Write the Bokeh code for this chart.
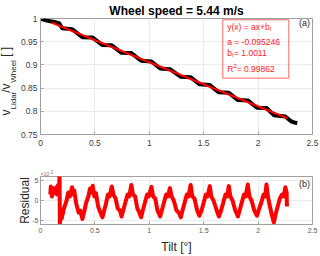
import math
from bokeh.plotting import figure
from bokeh.layouts import column
from bokeh.models import Range1d, FixedTicker, Label, BoxAnnotation, GlobalInlineStyleSheet, Title
from bokeh.embed import file_html
from bokeh.resources import INLINE

# ---------------- data ----------------
title_text = "Wheel speed = 5.44 m/s"

meas_tilt = [0.00, 0.02, 0.05, 0.09, 0.12, 0.17, 0.20, 0.29, 0.385, 0.48, 0.57, 0.655,
             0.745, 0.835, 0.925, 1.02, 1.10, 1.19, 1.29, 1.379, 1.46, 1.556, 1.64,
             1.731, 1.815, 1.905, 1.99, 2.077, 2.145, 2.25, 2.30, 2.33, 2.36]
meas_ratio = [1.000, 0.998, 0.996, 0.994, 0.993, 0.990, 0.979, 0.977, 0.9595, 0.9589,
              0.9428, 0.9422, 0.9261, 0.9254, 0.9090, 0.9073, 0.8923, 0.8908, 0.8742,
              0.8736, 0.8585, 0.8565, 0.8409, 0.8398, 0.8242, 0.8235, 0.8076, 0.8071,
              0.7917, 0.7890, 0.7790, 0.7760, 0.7750]

fit_tilt = [0.10, 2.27]
fit_ratio = [0.9916, 0.7849]

res_tilt = [0.090, 0.095, 0.105, 0.115, 0.125, 0.140, 0.150, 0.160, 0.170, 0.175, 0.178,
            0.185, 0.195, 0.215, 0.240, 0.255, 0.270, 0.290, 0.300, 0.310, 0.330, 0.350,
            0.365, 0.385, 0.400, 0.420, 0.440, 0.455, 0.465, 0.480, 0.495, 0.510, 0.530,
            0.550, 0.570, 0.585, 0.600, 0.620, 0.635, 0.655, 0.670, 0.690, 0.710, 0.730,
            0.745, 0.760, 0.780, 0.800, 0.815, 0.835, 0.850, 0.870, 0.890, 0.905, 0.925,
            0.940, 0.960, 0.980, 0.995, 1.020, 1.035, 1.055, 1.075, 1.100, 1.115, 1.135,
            1.155, 1.170, 1.190, 1.205, 1.225, 1.250, 1.270, 1.290, 1.305, 1.325, 1.345,
            1.360, 1.380, 1.395, 1.415, 1.440, 1.460, 1.480, 1.500, 1.520, 1.535, 1.556,
            1.570, 1.590, 1.620, 1.640, 1.660, 1.680, 1.700, 1.715, 1.731, 1.745, 1.765,
            1.790, 1.815, 1.830, 1.850, 1.870, 1.885, 1.905, 1.920, 1.940, 1.965, 1.990,
            2.010, 2.030, 2.050, 2.065, 2.077, 2.090, 2.105, 2.125, 2.145, 2.160, 2.180,
            2.200, 2.220, 2.235, 2.250, 2.262, 2.265]
res_val = [1.5, 3.5, 1.0, 3.0, 1.8, 3.2, 1.5, 3.8, 2.5, 6.3, -6.0,
           -3.0, -4.5, -2.0, 0.0, 2.0, 1.0, 3.3, 1.5, 2.5, -1.0, -3.0,
           -2.5, -4.6, -3.0, -0.5, 1.0, 3.0, 2.0, 3.7, 1.0, 1.8, -1.5,
           -3.0, -4.2, -2.5, -1.0, 1.5, 1.0, 3.5, 1.5, 0.5, -2.0, -2.5,
           -4.0, -2.5, -0.5, 1.5, 1.0, 3.9, 1.5, 1.0, -2.0, -2.8, -4.2,
           -2.5, -0.5, 1.5, 1.0, 3.4, 1.0, 0.5, -2.5, -4.0, -2.5, -0.5,
           1.5, 1.0, 3.1, 1.0, 0.0, -2.5, -3.0, -4.2, -2.5, -0.5, 1.5,
           1.0, 3.9, 1.0, 0.5, -2.5, -3.8, -2.5, -0.5, 1.5, 1.0, 3.6,
           1.0, 0.0, -2.5, -4.0, -2.5, -0.5, 1.5, 1.0, 3.6, 1.0, 0.0,
           -2.5, -4.0, -2.5, -0.5, 1.5, 1.0, 4.0, 1.0, 0.0, -2.5, -3.8,
           -2.0, -0.5, 1.5, 1.0, 4.0, 1.0, -1.0, -3.5, -5.5, -3.5, -1.5,
           0.5, 1.5, 1.0, 3.3, 2.0, -1.5]  # in units of 1e-3

x_ticks = [0, 0.5, 1, 1.5, 2, 2.5]
x_tick_labels = ["0", "0.5", "1", "1.5", "2", "2.5"]
y_ticks = [0.75, 0.8, 0.85, 0.9, 0.95, 1.0]
y_tick_labels = ["0.75", "0.8", "0.85", "0.9", "0.95", "1"]
res_ticks = [-5, 0, 5]
res_tick_labels = ["-5", "0", "5"]

fit_lines = ["y(x) = ax+b", "a = -0.095246", "b", "R"]

FONT = "Liberation Sans"
AXIS_COL = "#a0a0a0"
GRID_COL = "#ebebeb"
TXT = "#262626"
NB = "\u00a0"

# ---------------- top figure ----------------
p1 = figure(width=320, height=160, x_range=Range1d(0, 2.5), y_range=Range1d(0.75, 1.0),
            output_backend="svg", toolbar_location=None,
            min_border_left=40, min_border_right=8, min_border_top=16, min_border_bottom=26)

def tx(sx):
    return (sx - 40) * 2.5 / 272.0

def ty(sy):
    return 0.75 + (134 - sy) * 0.25 / 118.0

p1.line(meas_tilt, meas_ratio, color="black", line_width=4, line_join="round")
p1.line(fit_tilt, fit_ratio, color="red", line_width=2.2)

def style(p, xticks, xlabels, yticks, ylabels, fs, lab_col, xs, ys):
    p.outline_line_color = AXIS_COL
    p.outline_line_alpha = 1.0
    p.background_fill_color = "white"
    p.border_fill_color = "white"
    p.xaxis.ticker = FixedTicker(ticks=xticks)
    p.yaxis.ticker = FixedTicker(ticks=yticks)
    p.xaxis.major_label_overrides = dict(zip(xticks, xlabels))
    p.yaxis.major_label_overrides = dict(zip(yticks, ylabels))
    for ax in (p.xaxis[0], p.yaxis[0]):
        ax.axis_line_color = AXIS_COL
        ax.major_tick_line_color = AXIS_COL
        ax.major_tick_in = 3
        ax.major_tick_out = 0
        ax.minor_tick_line_color = None
        ax.major_label_text_font = FONT
        ax.major_label_text_font_size = fs
        ax.major_label_text_color = lab_col
    p.xaxis.major_label_standoff = xs
    p.yaxis.major_label_standoff = ys
    p.xgrid.grid_line_color = GRID_COL
    p.ygrid.grid_line_color = GRID_COL
    p.xgrid.ticker = FixedTicker(ticks=xticks)
    p.ygrid.ticker = FixedTicker(ticks=yticks)

style(p1, x_ticks, x_tick_labels, y_ticks, y_tick_labels, "8.5px", "#404040", 5, 3)

def lab(p, x, y, text, size, color="black", align="left", baseline="middle"):
    # x, y: canvas pixel coordinates within the figure
    p.add_layout(Label(x=x, y=y, x_units="canvas", y_units="canvas", text=text,
                       text_font=FONT, text_font_size=size,
                       text_color=color, text_align=align, text_baseline=baseline))

def side_title(p, place, text, size, align="center", offset=0, standoff=0, style_="normal", color=TXT):
    t = Title(text=text, align=align, offset=offset, standoff=standoff,
              text_font=FONT, text_font_size=size, text_font_style=style_, text_color=color)
    p.add_layout(t, place)
    return t

# title (above panel)
p1.title.text = title_text
p1.title.align = "center"
p1.title.text_font = FONT
p1.title.text_font_size = "12px"
p1.title.text_font_style = "bold"
p1.title.text_color = "black"
p1.title.standoff = 2

# y-axis label with subscripts: subscript strip next to axis, main strip outside
side_title(p1, "left", "Lidar" + NB * 4 + "Wheel", "8px", "left", offset=25, standoff=0)
side_title(p1, "left", "v" + NB * 5 + "/v" + NB * 7 + NB + "[" + NB + "]", "12px", "left",
           offset=19, standoff=-12)

# fit annotation box
p1.add_layout(BoxAnnotation(left=tx(222.3), right=tx(288.3), top=ty(17.3), bottom=ty(76.7),
                            fill_alpha=0.0, line_color="red", line_alpha=0.6, line_width=1))
RED = "#ff2020"
lab(p1, 226.7, 26.7, fit_lines[0], "8.5px", RED)
lab(p1, 269.4, 28.8, "l", "6px", RED)
lab(p1, 226.7, 41.7, fit_lines[1], "8.5px", RED)
lab(p1, 226.7, 52.7, fit_lines[2], "8.5px", RED)
lab(p1, 231.6, 54.8, "l", "6px", RED)
lab(p1, 233.5, 52.7, " = 1.0011", "8.5px", RED)
lab(p1, 226.7, 68.3, fit_lines[3], "8.5px", RED)
lab(p1, 232.9, 65.5, "2", "6px", RED)
lab(p1, 236.2, 68.3, " = 0.99862", "8.5px", RED)

lab(p1, 309.5, 22.7, "(a)", "9px", TXT, "right")

# ---------------- bottom figure ----------------
OFF = 160  # bottom figure starts at this page y
p2 = figure(width=320, height=96, x_range=Range1d(0, 2.5), y_range=Range1d(-6, 6),
            output_backend="svg", toolbar_location=None,
            min_border_left=40, min_border_right=8, min_border_top=16, min_border_bottom=27)

p2.line(res_tilt, res_val, color="red", line_width=4, line_join="round")
style(p2, x_ticks, x_tick_labels, res_ticks, res_tick_labels, "7px", "#555555", 3, 2)

p2.xaxis.axis_label = "Tilt [\u00b0]"
p2.xaxis.axis_label_text_font = FONT
p2.xaxis.axis_label_text_font_size = "12px"
p2.xaxis.axis_label_text_font_style = "normal"
p2.xaxis.axis_label_text_color = TXT
p2.xaxis.axis_label_standoff = 4

side_title(p2, "left", "Residual", "12px", "center", 0, -4)
side_title(p2, "above", "\u00d710", "5px", "left", 0, 0, color="#777777")
side_title(p2, "above", "-3", "4.5px", "left", 8.5, -10, color="#777777")

lab(p2, 309.5, 183 - OFF, "(b)", "9px", TXT, "right")

layout = column(p1, p2, spacing=0)
layout.stylesheets = [GlobalInlineStyleSheet(css="body { margin: 0 !important; overflow: hidden; }")]

open("out.html", "w").write(file_html(layout, INLINE))
